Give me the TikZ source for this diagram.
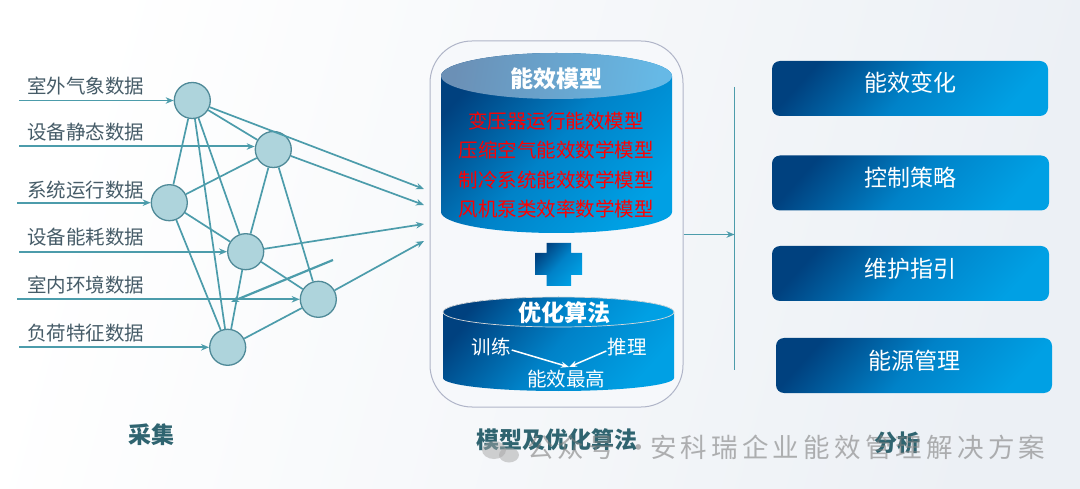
\documentclass[tikz,border=0pt]{standalone}
\usepackage{fontspec}
\setmainfont{Noto Sans CJK SC}
\newfontfamily\wmfont[LetterSpace=16]{Noto Sans CJK SC}
\usetikzlibrary{arrows.meta}
\definecolor{edgec}{HTML}{4C9CAB}
\definecolor{circfill}{HTML}{AED4DC}
\definecolor{circline}{HTML}{4F8A98}
\definecolor{labc}{HTML}{465C68}
\definecolor{headc}{HTML}{2F6470}
\definecolor{darkb}{HTML}{00417F}
\definecolor{midb}{HTML}{0082C8}
\definecolor{brightb}{HTML}{00A0E4}
\definecolor{bgend}{HTML}{ECF0F5}
\definecolor{capl}{HTML}{6B90B6}
\definecolor{capr}{HTML}{66B9E6}
\definecolor{contline}{HTML}{B0B5C8}
\definecolor{contfill}{HTML}{F6F8FB}
\tikzset{
  neuron/.style={circle,draw=circline,line width=1.3pt,fill=circfill,minimum size=36pt,inner sep=0pt},
  edgeln/.style={draw=edgec,line width=1.7pt},
  arr/.style={edgeln,-{Stealth[length=8pt,width=6.5pt]}},
  inlab/.style={anchor=west,inner sep=0pt,text=labc,font=\fontsize{19.5}{23}\selectfont},
  redlab/.style={inner sep=0pt,text=red,font=\fontsize{19.5}{23}\selectfont},
  whitelab/.style={inner sep=0pt,text=white,font=\fontsize{19.5}{23}\selectfont},
  whitebold/.style={inner sep=0pt,text=white,font=\fontsize{23}{27}\selectfont\bfseries},
  headlab/.style={inner sep=0pt,text=headc,font=\fontsize{23}{27}\selectfont\bfseries},
  blue shade/.style={left color=darkb,right color=brightb,middle color=midb,shading angle=48},
  outbox/.style={blue shade,rounded corners=8pt,minimum width=277pt,minimum height=55pt,inner sep=0pt},
  boxlab/.style={inner sep=0pt,text=white,font=\fontsize{23}{27}\selectfont},
  wharr/.style={draw=white,line width=1.5pt,-{Stealth[length=8pt,width=6pt]}}
}
\begin{document}
\begin{tikzpicture}[x=1pt,y=-1pt]
\useasboundingbox (0,0) rectangle (1080,489);
\shade[left color=white,right color=bgend,shading angle=75] (0,0) rectangle (1080,489);

% container
\node (cont) at (556.5,224) [draw=contline,line width=1pt,fill=contfill,rounded corners=42pt,minimum width=253pt,minimum height=366pt,inner sep=0pt] {};

% top cylinder
\shade[blue shade] (441,76) -- (441,212) arc[x radius=115.5pt,y radius=21pt,start angle=180,end angle=360] -- (672,76) arc[x radius=115.5pt,y radius=23pt,start angle=0,end angle=180] -- cycle;
\shade[left color=capl,right color=capr,shading angle=80] (556.5,76) ellipse[x radius=115.5pt,y radius=23pt];
\node[whitebold] (t1) at (556,79) {能效模型};
\node[redlab] (r1) at (556,121) {变压器运行能效模型};
\node[redlab] (r2) at (556,150) {压缩空气能效数学模型};
\node[redlab] (r3) at (556,180) {制冷系统能效数学模型};
\node[redlab] (r4) at (556,209) {风机泵类效率数学模型};

% plus
\shade[blue shade] (546.5,243) -- (571,243) -- (571,253) -- (582,253) -- (582,275) -- (571,275) -- (571,286) -- (546.5,286) -- (546.5,275) -- (535,275) -- (535,253) -- (546.5,253) -- cycle;

% bottom cylinder
\shade[blue shade] (443,312) -- (443,378) arc[x radius=115.5pt,y radius=13pt,start angle=180,end angle=360] -- (674,312) arc[x radius=115.5pt,y radius=15pt,start angle=0,end angle=180] -- cycle;
\draw[white!70!gray,line width=.7pt,blue shade] (558.5,312) ellipse[x radius=115.5pt,y radius=15pt];
\node[whitebold] (t2) at (564,313) {优化算法};
\node[whitelab] (xl) at (491,347) {训练};
\node[whitelab] (tl) at (627,347) {推理};
\node[whitelab] (nx) at (566,379) {能效最高};
\coordinate (mid) at (569,367);
\draw[wharr] (xl.east) ++(1,3) -- (mid);
\draw[wharr] (tl.west) ++(-1,4) -- (mid);

% left network
\node[neuron] (n1) at (192.3,100.5) {};
\node[neuron] (n2) at (273.3,149.5) {};
\node[neuron] (n3) at (169.3,202.7) {};
\node[neuron] (n4) at (245.7,251.7) {};
\node[neuron] (n5) at (318.3,299.3) {};
\node[neuron] (n6) at (227.7,347.3) {};

\foreach \a/\b in {n1/n3,n1/n6,n1/n4,n1/n2,n3/n2,n3/n4,n3/n6,n2/n4,n2/n5,n4/n6,n4/n5,n5/n6}
  \draw[edgeln] (\a) -- (\b);

\coordinate (o1) at (424,189);
\coordinate (o2) at (424,205);
\coordinate (o3) at (424,224);
\coordinate (o4) at (424,241);
\draw[arr] (n1) -- (o1);
\draw[arr] (n2) -- (o2);
\draw[arr] (n4) -- (o3);
\draw[arr] (n5) -- (o4);

\coordinate (i1) at (19,100.5);
\coordinate (i2) at (19,146.5);
\coordinate (i3) at (17,202.7);
\coordinate (i4) at (19,251.7);
\coordinate (i5) at (17,299.3);
\coordinate (i6) at (19,347.3);
\draw[arr] (i1) -- (n1);
\draw[arr,line width=2pt] (i2) -- (n2.west|-i2);
\draw[arr,line width=2pt] (i3) -- (n3);
\draw[arr] (i4) -- (n4);
\draw[arr] (i5) -- (n5);
\draw[arr] (i6) -- (n6);

\coordinate (s1) at (333,260);
\coordinate (s2) at (231,302);
\draw[arr,line width=2.2pt] (s1) -- (s2);

\node[inlab] (a1) at (27,86) {室外气象数据};
\node[inlab] (a2) at (27,132.5) {设备静态数据};
\node[inlab] (a3) at (27,190) {系统运行数据};
\node[inlab] (a4) at (27,237.5) {设备能耗数据};
\node[inlab] (a5) at (27,285) {室内环境数据};
\node[inlab] (a6) at (27,333.5) {负荷特征数据};

% bus
\coordinate (bustop) at (734.5,87);
\coordinate (busbot) at (734.5,370);
\coordinate (busin) at (734.5,234.5);
\draw[edgeln] (bustop) -- (busbot);
\draw[arr] (cont.east|-busin) -- (busin);

% output boxes
\node[outbox,minimum width=276pt] (b1) at (910,88.5) {};
\node[outbox] (b2) at (910.5,183) {};
\node[outbox] (b3) at (910.5,273.5) {};
\node[outbox,minimum width=276pt] (b4) at (914,365.5) {};
\node[boxlab] (l1) at (910,83) {能效变化};
\node[boxlab] (l2) at (910.5,178) {控制策略};
\node[boxlab] (l3) at (910.5,269) {维护指引};
\node[boxlab] (l4) at (914,361) {能源管理};

% headings
\node[headlab] (h1) at (151,435) {采集};
\node[headlab] (h2) at (557,440) {模型及优化算法};
\node[headlab] (h3) at (897,443) {分析};

% watermark
\fill[gray!70,opacity=.5] (494,450) ellipse[x radius=12pt,y radius=9pt];
\fill[gray!70,opacity=.5] (509,455) ellipse[x radius=10pt,y radius=7.5pt];
\node[anchor=west,inner sep=0pt,text=gray,text opacity=.6,font=\fontsize{26.5}{30}\wmfont] (wm) at (527,447) {公众号 · \hspace{-12pt}安科瑞企业能效管理解决方案};
\end{tikzpicture}
\end{document}
